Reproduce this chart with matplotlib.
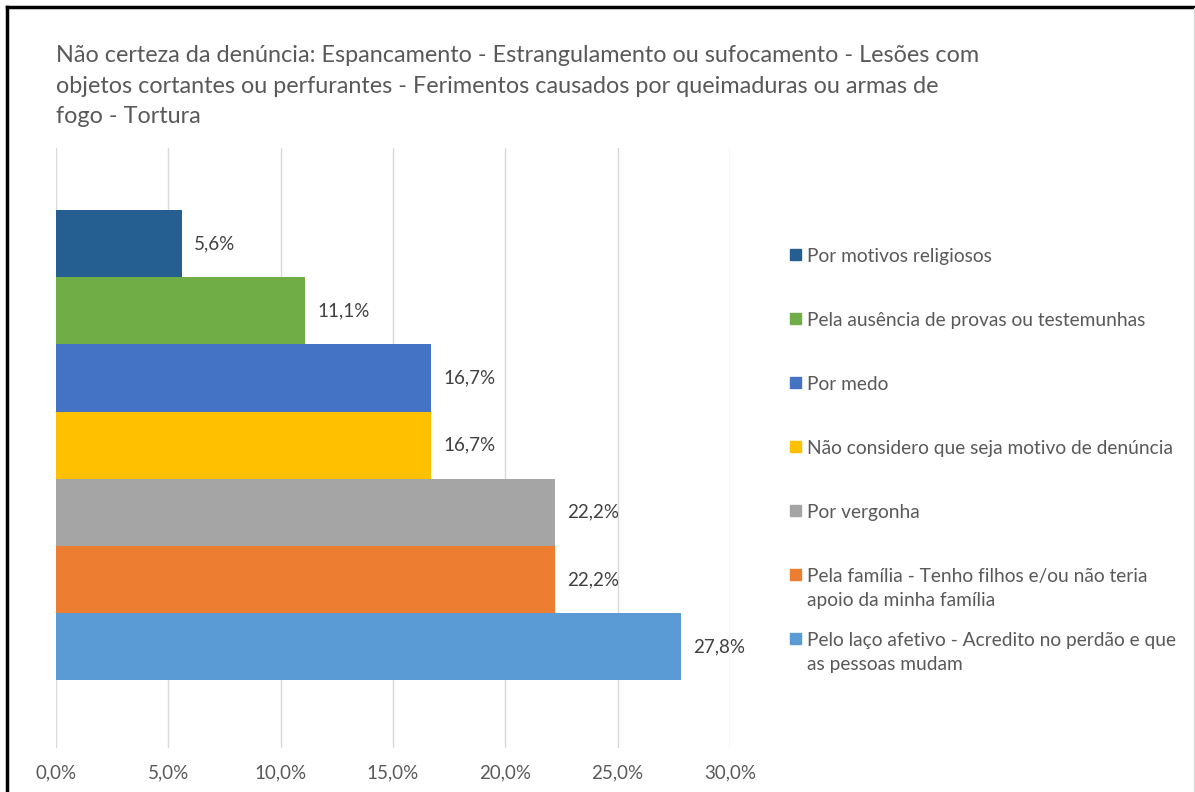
import matplotlib
matplotlib.use("Agg")
from matplotlib import pyplot as plt
from matplotlib.lines import Line2D
from matplotlib.patches import Rectangle

plt.rcParams['font.family'] = ['Lato', 'DejaVu Sans']

# Data
motivos = [
    "Por motivos religiosos",
    "Pela ausência de provas ou testemunhas",
    "Por medo",
    "Não considero que seja motivo de denúncia",
    "Por vergonha",
    "Pela família - Tenho filhos e/ou não teria\napoio da minha família",
    "Pelo laço afetivo - Acredito no perdão e que\nas pessoas mudam",
]
valores = [5.6, 11.1, 16.7, 16.7, 22.2, 22.2, 27.8]
cores = ["#255E91", "#70AD47", "#4472C4", "#FFC000", "#A5A5A5", "#ED7D31", "#5B9BD5"]
ticks = [0, 5, 10, 15, 20, 25, 30]

titulo = ("Não certeza da denúncia: Espancamento - Estrangulamento ou sufocamento - Lesões com\n"
          "objetos cortantes ou perfurantes - Ferimentos causados por queimaduras ou armas de\n"
          "fogo - Tortura")

W, H = 1195, 792
fig = plt.figure(figsize=(W / 100, H / 100), dpi=100)
ax = fig.add_axes([56 / W, (H - 748) / H, (730 - 56) / W, (748 - 148) / H])

# one bar per series, stacked contiguously
for i, (nome, v, c) in enumerate(zip(motivos, valores, cores)):
    ax.barh(i, v, height=1.0, color=c, label=nome)
    ax.text(v + 0.55, i, f"{v:.1f}%".replace(".", ","), va="center", ha="left",
            fontsize=13.5, color="#404040")

ax.set_xlim(0, 30)
ax.set_ylim(6.5 + 1.01, -0.5 - 0.925)
ax.set_xticks(ticks)
ax.set_xticklabels([f"{t:.1f}%".replace(".", ",") for t in ticks], fontsize=13.5, color="#595959")
ax.set_yticks([])
ax.tick_params(axis="x", length=0, pad=12)
ax.grid(axis="x", color="#D9D9D9", linewidth=1)
ax.set_axisbelow(True)
for s in ax.spines.values():
    s.set_visible(False)

fig.text(56 / W, 1 - 45 / H, titulo, fontsize=16.85, color="#595959", va="top", ha="left",
         linespacing=1.56)

# legend, one slot per series (multi-line labels flow downward like Excel)
for i, (nome, c) in enumerate(zip(motivos, cores)):
    yc = 254 + i * 64
    fig.add_artist(Rectangle((790 / W, 1 - (yc + 6) / H), 11 / W, 11 / H,
                             transform=fig.transFigure, color=c))
    fig.text(807 / W, 1 - (yc - 6) / H, nome, fontsize=13.8, color="#595959",
             va="top", ha="left", linespacing=1.49)

# outer frame like the screenshot
fig.add_artist(Line2D([7 / W, 7 / W], [0, 1 - 7 / H], transform=fig.transFigure, color="black", lw=2.5))
fig.add_artist(Line2D([7 / W, 1], [1 - 7 / H, 1 - 7 / H], transform=fig.transFigure, color="black", lw=2.5))
fig.add_artist(Line2D([1194 / W, 1194 / W], [0, 1 - 8 / H], transform=fig.transFigure, color="#D9D9D9", lw=1))

fig.savefig("out.png", dpi=100)
